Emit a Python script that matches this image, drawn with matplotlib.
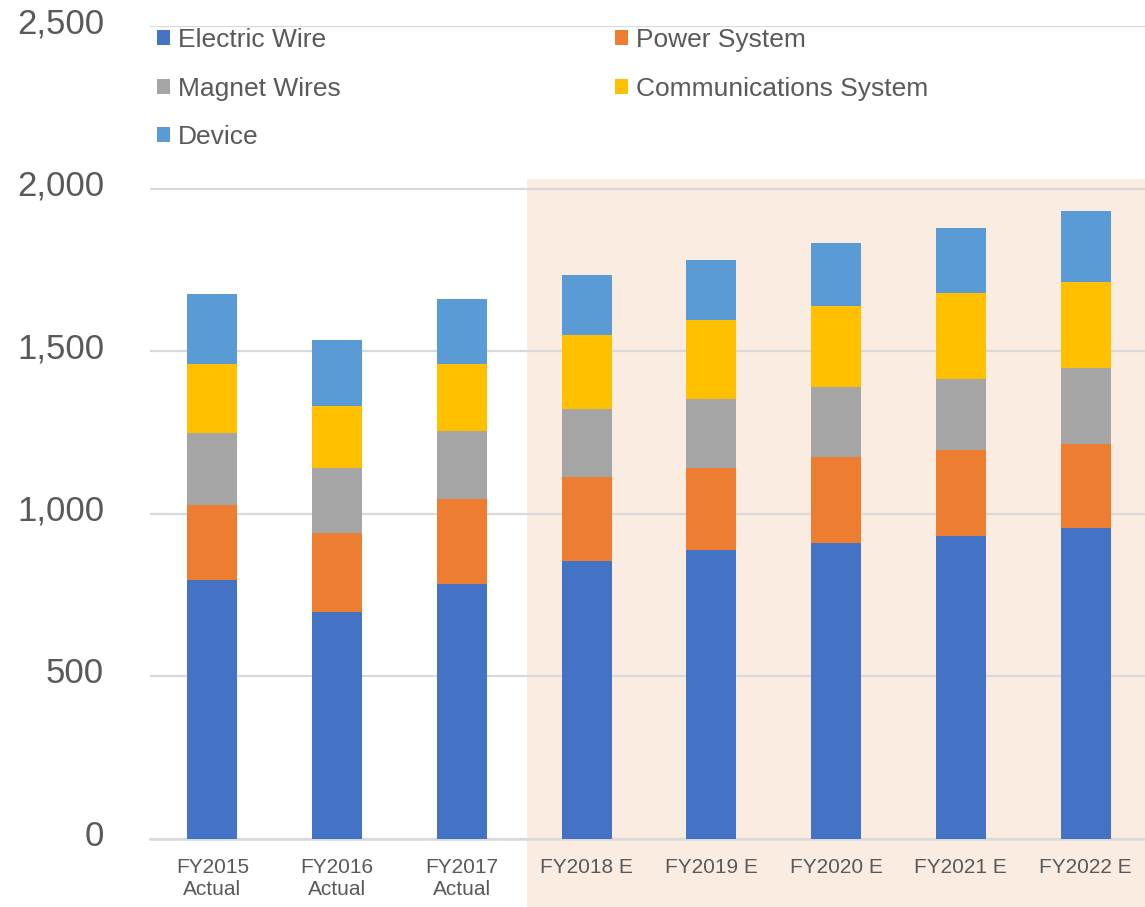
import matplotlib.pyplot as plt
import matplotlib.transforms as mtransforms
from matplotlib.patches import Rectangle
import numpy as np

plt.rcParams['font.family'] = ['Liberation Sans', 'DejaVu Sans']

years = ["FY2015\nActual", "FY2016\nActual", "FY2017\nActual", "FY2018 E",
         "FY2019 E", "FY2020 E", "FY2021 E", "FY2022 E"]
electric_wire = [796, 698, 784, 856, 888, 911, 931, 957]
power_system = [232, 243, 260, 258, 254, 265, 266, 258]
magnet_wires = [219, 200, 211, 208, 211, 213, 218, 232]
communications = [215, 192, 207, 227, 244, 251, 264, 267]
device = [213, 200, 199, 184, 184, 192, 200, 216]

series = [
    ("Electric Wire", electric_wire, "#4472C4"),
    ("Power System", power_system, "#ED7D31"),
    ("Magnet Wires", magnet_wires, "#A5A5A5"),
    ("Communications System", communications, "#FFC000"),
    ("Device", device, "#5B9BD5"),
]

fig = plt.figure(figsize=(11.45, 9.07), dpi=100)
ax = fig.add_axes([150 / 1145, 1 - 839 / 907, 998 / 1145, (839 - 26) / 907])

x = np.arange(len(years))
bottom = np.zeros(len(years))
bars = {}
for name, vals, col in series:
    bars[name] = ax.bar(x, vals, 0.4, bottom=bottom, color=col, zorder=3, label=name)
    bottom += np.array(vals)

# forecast period shading
ax.add_patch(Rectangle((2.52, -215), 6, 2245, facecolor="#FBECE1",
                       edgecolor="none", zorder=0, clip_on=False))

ax.set_xlim(-0.5, 7.5)
ax.set_ylim(0, 2500)
ax.set_yticks([0, 500, 1000, 1500, 2000, 2500])
ax.set_yticklabels(["0", "500", "1,000", "1,500", "2,000", "2,500"])
ax.set_xticks(x)
ax.set_xticklabels(years)
ax.yaxis.grid(True, color="#D9D9D9", lw=1.6, zorder=1)
ax.set_axisbelow(False)
for s in ["top", "right", "left"]:
    ax.spines[s].set_visible(False)
ax.spines["bottom"].set_color("#D9D9D9")
ax.spines["bottom"].set_linewidth(1.8)
ax.spines["bottom"].set_zorder(1)
ax.patch.set_alpha(0)
ax.tick_params(axis="y", length=0, pad=33, labelsize=25, labelcolor="#595959")
ax.tick_params(axis="x", length=0, pad=14, labelsize=15, labelcolor="#595959")

# y labels sit a little above their gridlines
shift = mtransforms.ScaledTranslation(0, 6 / 100, fig.dpi_scale_trans)
for lbl in ax.get_yticklabels():
    lbl.set_transform(lbl.get_transform() + shift)

order = ["Electric Wire", "Magnet Wires", "Device", "Power System", "Communications System"]
leg = ax.legend([bars[n] for n in order], order, ncol=2, frameon=False,
                loc="upper left", bbox_to_anchor=(157 / 1145, 1 - 28 / 907),
                bbox_transform=fig.transFigure, fontsize=19,
                handlelength=0.5, handleheight=0.5, handletextpad=0.3,
                labelspacing=0.93, columnspacing=10.38, borderpad=0, borderaxespad=0)
for t in leg.get_texts():
    t.set_color("#595959")

fig.savefig("out.png", dpi=100)
